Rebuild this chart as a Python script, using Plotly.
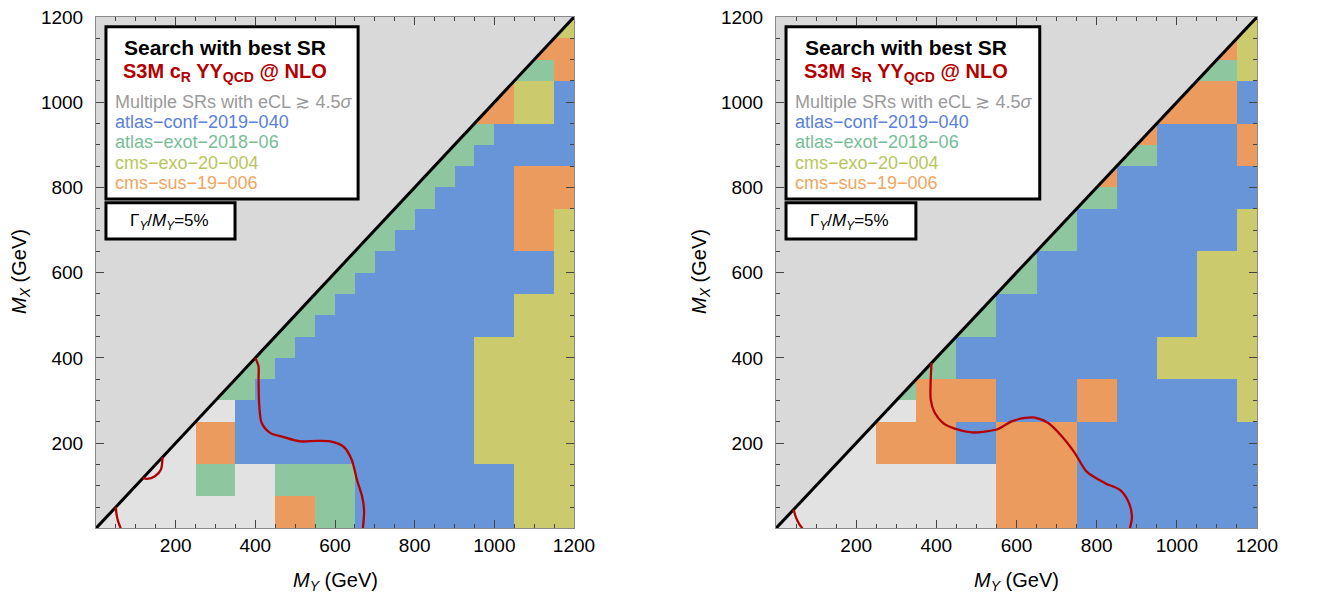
import plotly.graph_objects as go

FONT = "Liberation Sans, Arial, Helvetica, sans-serif"

# Bin edges of the mass grid (GeV)
MY_EDGES = list(range(0, 1201, 50))               # 24 columns in M_Y
MX_EDGES = [0, 75] + list(range(150, 1201, 50))   # 23 rows in M_X

# Analyses giving the best expected sensitivity, with their colours
ANALYSES = ["Multiple SRs with eCL ≳ 4.5<i>σ</i>", "atlas−conf−2019−040",
            "atlas−exot−2018−06", "cms−exo−20−004", "cms−sus−19−006"]
CELL_COLORS = ["#e2e2e2", "#6895d8", "#8ec69f", "#cbcb6e", "#eb9b5d"]
TEXT_COLORS = ["#9a9a9a", "#5a7fde", "#77be96", "#b8c65c", "#f0a660"]
CODES = {"g": 0, "b": 1, "t": 2, "y": 3, "o": 4}

# Best analysis per grid cell, top row (M_X 1150-1200) first; '.' = M_X > M_Y
GRID_CR = [
    "." * 23 + "y",
    "." * 22 + "oo",
    "." * 21 + "tto",
    "." * 20 + "oyyb",
    "." * 19 + "ooyyb",
    "." * 18 + "ttbbbb",
    "." * 17 + "ttbbbbb",
    "." * 16 + "ttbbbooo",
    "." * 15 + "ttbbbbooo",
    "." * 14 + "ttbbbbbooy",
    "." * 13 + "ttbbbbbbooy",
    "." * 12 + "ttbbbbbbbbby",
    "." * 11 + "ttbbbbbbbbbby",
    "." * 10 + "ttbbbbbbbbbyyy",
    "." * 9 + "ttbbbbbbbbbbyyy",
    "." * 8 + "ttbbbbbbbbbyyyyy",
    "." * 7 + "ttbbbbbbbbbbyyyyy",
    "." * 6 + "ttbbbbbbbbbbbyyyyy",
    "." * 5 + "ggbbbbbbbbbbbbyyyyy",
    "." * 4 + "goobbbbbbbbbbbbyyyyy",
    "." * 3 + "ggoobbbbbbbbbbbbyyyyy",
    "." + "gggg" + "tt" + "gg" + "tttt" + "bbbbbbbb" + "yyy",
    "ggggggggg" + "oo" + "tt" + "bbbbbbbb" + "yyy",
]
GRID_SR = [
    "." * 23 + "y",
    "." * 22 + "oy",
    "." * 21 + "tty",
    "." * 20 + "ooob",
    "." * 19 + "oooob",
    "." * 18 + "obbbbo",
    "." * 17 + "ttbbbbo",
    "." * 16 + "obbbbbbb",
    "." * 15 + "ttbbbbbbb",
    "." * 14 + "tbbbbbbbby",
    "." * 13 + "ttbbbbbbbby",
    "." * 12 + "tbbbbbbbbyyy",
    "." * 11 + "ttbbbbbbbbyyy",
    "." * 10 + "tbbbbbbbbbbyyy",
    "." * 9 + "ttbbbbbbbbbbyyy",
    "." * 8 + "tbbbbbbbbbbyyyyy",
    "." * 7 + "ttbbbbbbbbbbyyyyy",
    "." * 6 + "toooobbbboobbbbbby",
    "." * 5 + "ggoooobbbboobbbbbby",
    "." * 4 + "goooobboooobbbbbbbbb",
    "." * 3 + "ggoooobboooobbbbbbbbb",
    "." + "g" * 10 + "oooo" + "b" * 9,
    "g" * 11 + "oooo" + "b" * 9,
]

# Exclusion contours (M_Y, M_X) in GeV
CR_MAIN_MY = [400, 408, 408, 410, 416, 437, 471, 513, 554, 588, 621, 642, 655, 668, 673, 670]
CR_MAIN_MX = [400, 380, 349, 286, 247, 224, 214, 204, 205, 204, 192, 161, 114, 75, 43, 0]
CR_ARC_MY = [167, 163, 148, 128, 118]
CR_ARC_MX = [167, 138, 122, 116, 118]
CR_CORNER_MY = [50, 51, 55, 62]
CR_CORNER_MX = [50, 36, 18, 0]

SR_MAIN_MY = [388, 386, 386, 396, 417, 446, 488, 521, 554, 588, 621, 646, 679, 713, 746, 775, 821, 858, 879, 888, 883]
SR_MAIN_MX = [388, 349, 302, 271, 247, 234, 225, 227, 233, 251, 259, 260, 247, 216, 176, 133, 106, 90, 63, 27, 0]
SR_CORNER_MY = [44, 50, 58, 66]
SR_CORNER_MX = [44, 25, 10, 0]

TICKS = [200, 400, 600, 800, 1000, 1200]
M_MAX = 1200

BG_GREY = "#d9d9d9"
RED = "#b30000"


def grid_to_z(grid):
    z = []
    for row in reversed(grid):
        assert len(row) == len(MY_EDGES) - 1
        z.append([CODES[ch] if ch in CODES else None for ch in row])
    assert len(z) == len(MX_EDGES) - 1
    return z


n = len(CELL_COLORS)
colorscale = []
for i, c in enumerate(CELL_COLORS):
    colorscale += [[i / n, c], [(i + 1) / n, c]]

fig = go.Figure()

panels = [
    ("x", "y", GRID_CR, "c", [(CR_MAIN_MY, CR_MAIN_MX), (CR_ARC_MY, CR_ARC_MX), (CR_CORNER_MY, CR_CORNER_MX)]),
    ("x2", "y2", GRID_SR, "s", [(SR_MAIN_MY, SR_MAIN_MX), (SR_CORNER_MY, SR_CORNER_MX)]),
]

for xa, ya, grid, letter, curves in panels:
    fig.add_trace(go.Heatmap(
        x=MY_EDGES, y=MX_EDGES, z=grid_to_z(grid),
        colorscale=colorscale, zmin=-0.5, zmax=n - 0.5, showscale=False,
        hoverinfo="skip", xaxis=xa, yaxis=ya))
    # kinematically forbidden region M_X > M_Y
    fig.add_trace(go.Scatter(
        x=[0, 0, M_MAX, 0], y=[0, M_MAX, M_MAX, 0], mode="lines", fill="toself",
        fillcolor=BG_GREY, line=dict(width=0), hoverinfo="skip", showlegend=False,
        xaxis=xa, yaxis=ya))
    fig.add_trace(go.Scatter(
        x=[0, M_MAX], y=[0, M_MAX], mode="lines", line=dict(color="black", width=3),
        hoverinfo="skip", showlegend=False, xaxis=xa, yaxis=ya))
    for cx, cy in curves:
        fig.add_trace(go.Scatter(
            x=cx, y=cy, mode="lines", line=dict(color=RED, width=2.3, shape="spline", smoothing=0.8),
            hoverinfo="skip", showlegend=False, xaxis=xa, yaxis=ya))

    # legend boxes
    fig.add_shape(type="rect", xref=xa, yref=ya, x0=25, x1=658, y0=773, y1=1177,
                  fillcolor="white", line=dict(color="black", width=3))
    fig.add_shape(type="rect", xref=xa, yref=ya, x0=25, x1=349, y0=679, y1=764,
                  fillcolor="white", line=dict(color="black", width=3))
    fig.add_annotation(xref=xa, yref=ya, x=324, y=1128, text="<b>Search with best SR</b>",
                       showarrow=False, font=dict(family=FONT, size=21, color="black"))
    fig.add_annotation(xref=xa, yref=ya, x=324, y=1070,
                       text=f"<b>S3M {letter}<sub>R</sub> YY<sub>QCD</sub> @ NLO</b>",
                       showarrow=False, font=dict(family=FONT, size=20, color=RED))
    for k, (label, col) in enumerate(zip(ANALYSES, TEXT_COLORS)):
        fig.add_annotation(xref=xa, yref=ya, x=43, y=1001 - 47.5 * k, text=label,
                           xanchor="left", showarrow=False,
                           font=dict(family=FONT, size=18, color=col))
    fig.add_annotation(xref=xa, yref=ya, x=184, y=719,
                       text="Γ<sub><i>Y</i></sub>/<i>M</i><sub><i>Y</i></sub>=5%",
                       showarrow=False, font=dict(family=FONT, size=17, color="black"))

W, H = 1325, 601
x_domains = [(96 / W, 574 / W), (776 / W, 1257 / W)]
y_domain = ((H - 528.3) / H, (H - 17) / H)

axis_common = dict(
    range=[0, M_MAX], showgrid=False, zeroline=False, showline=True, automargin=False,
    linecolor="#8a8a8a", linewidth=1, mirror="allticks", ticks="inside",
    ticklen=8, tickwidth=1, tickcolor="#444", tickvals=TICKS,
    tickfont=dict(family=FONT, size=19, color="black"),
    minor=dict(ticks="inside", ticklen=4, dtick=50, tick0=0, tickcolor="#444", showgrid=False),
)

fig.update_layout(
    width=W, height=H, margin=dict(l=0, r=0, t=0, b=0, autoexpand=False),
    paper_bgcolor="white", plot_bgcolor=BG_GREY, showlegend=False,
    xaxis=dict(domain=x_domains[0], anchor="y", ticklabelstandoff=0, **axis_common),
    yaxis=dict(domain=y_domain, anchor="x", ticklabelstandoff=8, **axis_common),
    xaxis2=dict(domain=x_domains[1], anchor="y2", ticklabelstandoff=0, **axis_common),
    yaxis2=dict(domain=y_domain, anchor="x2", ticklabelstandoff=8, **axis_common),
)

for (d0, d1), ylab_x in zip(x_domains, [20 / W, 700 / W]):
    fig.add_annotation(xref="paper", yref="paper", x=(d0 + d1) / 2, y=(H - 581) / H,
                       xanchor="center", yanchor="middle",
                       text="<i>M</i><sub><i>Y</i></sub> (GeV)", showarrow=False,
                       font=dict(family=FONT, size=20, color="black"))
    fig.add_annotation(xref="paper", yref="paper", x=ylab_x, y=(H - 272) / H,
                       xanchor="center", yanchor="middle",
                       text="<i>M</i><sub><i>X</i></sub> (GeV)", showarrow=False, textangle=-90,
                       font=dict(family=FONT, size=20, color="black"))

fig.write_html("out.html")
